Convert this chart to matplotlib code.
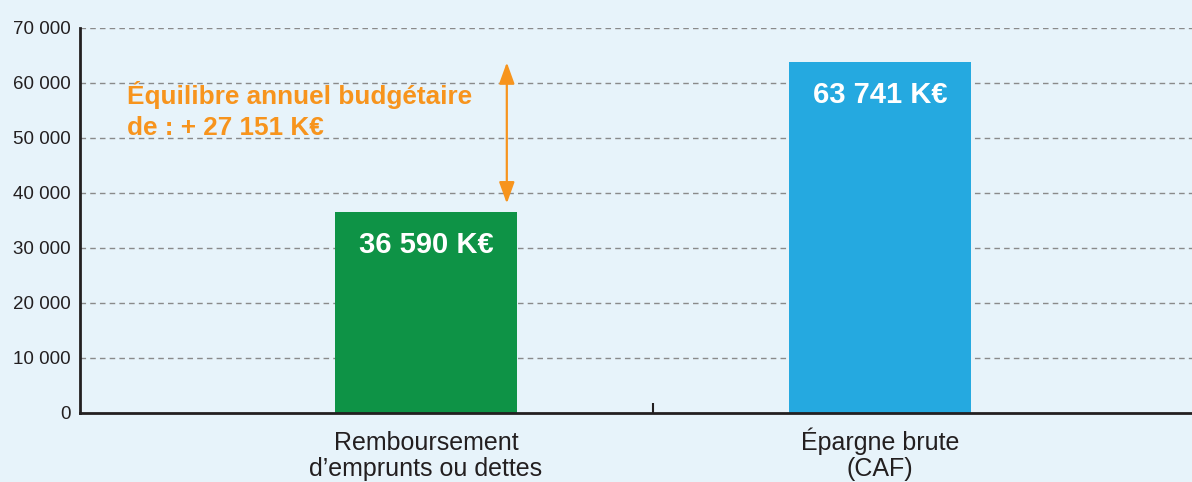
import matplotlib
matplotlib.use("Agg")
import matplotlib.pyplot as plt
import matplotlib.transforms as mtransforms

categories = ["Remboursement\nd\u2019emprunts ou dettes", "\u00c9pargne brute\n(CAF)"]
values = [36590, 63741]
value_labels = ["36 590 K\u20ac", "63 741 K\u20ac"]
bar_colors = ["#0E9346", "#25A9E0"]
y_ticks = [0, 10000, 20000, 30000, 40000, 50000, 60000, 70000]
y_tick_labels = ["0", "10 000", "20 000", "30 000", "40 000", "50 000", "60 000", "70 000"]

bg = "#E7F3FA"
orange = "#F7941D"
dark = "#231F20"

plt.rcParams['font.family'] = ['Liberation Sans', 'DejaVu Sans']

fig = plt.figure(figsize=(11.92, 4.82), dpi=100, facecolor=bg)
ax = fig.add_axes([0.0671, 0.1432, 0.9329, 0.7988], facecolor=bg)

x = list(range(len(categories)))
ax.bar(x, values, width=0.40, color=bar_colors, zorder=3)

# value labels inside bars
for xi, v, lab in zip(x, values, value_labels):
    ax.annotate(lab, xy=(xi, v), xytext=(0, -29.5), textcoords='offset points',
                ha='center', va='baseline', color='white', fontsize=21,
                fontweight='bold', zorder=4)

# double arrow showing the difference
diff = values[1] - values[0]
arrow_x = 0.178
ax.annotate('', xy=(arrow_x, values[1]), xytext=(arrow_x, values[0] + 1500),
            arrowprops=dict(arrowstyle='<|-|>,head_length=1.3,head_width=0.47',
                            color=orange, lw=1.6, mutation_scale=10,
                            shrinkA=0, shrinkB=0),
            zorder=5)
diff_txt = "\u00c9quilibre annuel budg\u00e9taire\nde : + " + f"{diff:,}".replace(",", " ") + " K\u20ac"
# baseline alignment -> position refers to the last line
ax.text(-0.658, 50550, diff_txt, ha='left', va='baseline', color=orange,
        fontsize=18.8, fontweight='bold', linespacing=1.35, zorder=5)

ax.set_xlim(-0.762, 1.687)
ax.set_ylim(0, 70000)

ax.set_yticks(y_ticks)
ax.set_yticklabels(y_tick_labels)
ax.set_xticks(x)
ax.set_xticklabels([])
ax.set_xticks([0.5], minor=True)
ax.tick_params(axis='x', which='major', length=0)
ax.tick_params(axis='x', which='minor', direction='in', length=7, width=1.5, color=dark)
ax.tick_params(axis='y', length=0, pad=7, labelsize=13.5, labelcolor=dark)

# category labels, last-line baselines aligned
trans = mtransforms.offset_copy(ax.get_xaxis_transform(), fig=fig, y=-63 * 72 / 100, units='points')
for xi, cat in zip(x, categories):
    ax.text(xi, 0, cat, transform=trans, ha='center', va='baseline',
            fontsize=18, color=dark, linespacing=1.1)

for t in y_ticks[1:]:
    ax.axhline(t, color='#8A8A8A', lw=1, ls=(0, (4, 3)), zorder=1)

for s in ['top', 'right']:
    ax.spines[s].set_visible(False)
ax.spines['left'].set_color(dark)
ax.spines['left'].set_linewidth(2)
ax.spines['bottom'].set_color(dark)
ax.spines['bottom'].set_linewidth(2)
ax.spines['bottom'].set_zorder(4)

fig.savefig("out.png", dpi=100, facecolor=bg)
